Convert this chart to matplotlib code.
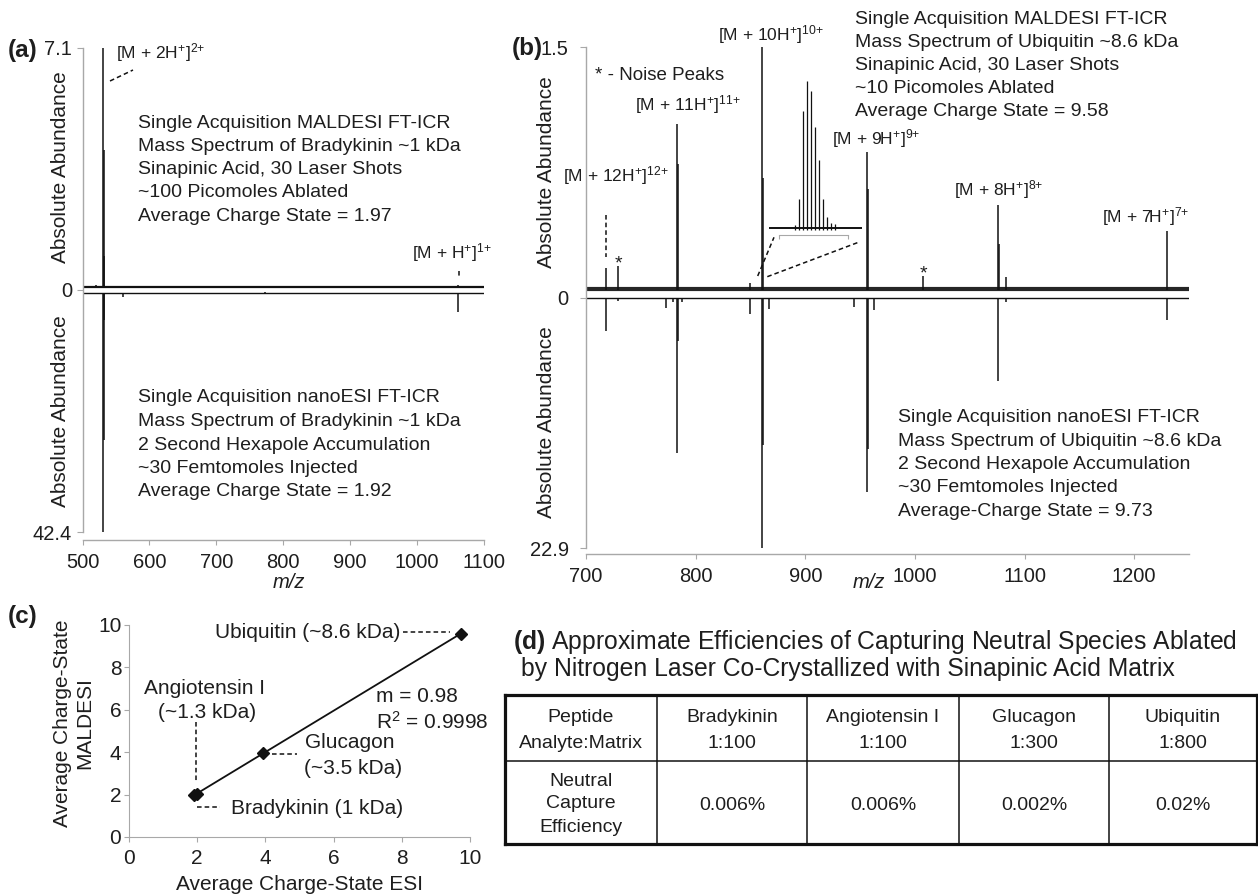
import numpy as np
import matplotlib
matplotlib.use("Agg")
from matplotlib import pyplot as plt

plt.rcParams['font.family'] = ['Liberation Sans', 'DejaVu Sans']
plt.rcParams['mathtext.fontset'] = 'custom'
plt.rcParams['mathtext.rm'] = 'Liberation Sans'
plt.rcParams['mathtext.it'] = 'Liberation Sans:italic'
plt.rcParams['mathtext.bf'] = 'Liberation Sans:bold'

# ---- data -------------------------------------------------------------
# (a) bradykinin, MALDESI (top) and nanoESI (bottom)
a_top_mz = [520.5, 531.3, 531.8, 532.3, 603.0, 610.5, 1061.5]
a_top_ab = [0.15, 7.1, 4.1, 1.0, 0.08, 0.10, 0.14]
a_bot_mz = [531.3, 531.8, 532.3, 545.0, 549.0, 560.0, 772.0, 1061.5]
a_bot_ab = [42.4, 26.2, 5.2, 0.6, 0.6, 1.3, 0.3, 3.9]
a_max = [7.1, 42.4]

# (b) ubiquitin, MALDESI (top) and nanoESI (bottom)
b_top_mz = [718.0, 729.5, 782.7, 783.5, 849.6, 860.9, 861.7, 956.4, 957.2,
            1007.0, 1075.6, 1076.4, 1083.0, 1229.5]
b_top_ab = [0.18, 0.19, 1.04, 0.80, 0.09, 1.5, 0.72, 0.87, 0.65,
            0.13, 0.555, 0.32, 0.125, 0.40]
b_bot_mz = [718.0, 729.5, 773.0, 779.0, 782.7, 783.5, 788.0, 850.0, 860.9,
            861.7, 867.0, 944.0, 956.4, 957.2, 963.0, 1075.6, 1083.0, 1229.5]
b_bot_ab = [3.0, 0.3, 0.9, 0.4, 14.2, 4.0, 0.4, 1.48, 22.9,
            13.5, 1.06, 0.82, 17.8, 13.8, 1.12, 7.6, 0.4, 2.0]
b_max = [1.5, 22.9]

# inset: isotope distribution of [M + 10H]10+ (relative)
ins_mz = [857.33, 857.43, 857.53, 857.63, 857.73, 857.83, 857.93, 858.03,
          858.13, 858.23, 858.33]
ins_ab = [0.03, 0.21, 0.80, 1.0, 0.93, 0.69, 0.47, 0.21, 0.09, 0.05, 0.04]

# (c) average charge states
c_names = ['Bradykinin', 'Angiotensin I', 'Glucagon', 'Ubiquitin']
c_esi = [1.92, 2.00, 3.92, 9.73]
c_maldesi = [1.97, 2.03, 3.98, 9.58]

# (d) table
peptides = ['Bradykinin', 'Angiotensin I', 'Glucagon', 'Ubiquitin']
ratios = ['1:100', '1:100', '1:300', '1:800']
efficiency = ['0.006%', '0.006%', '0.002%', '0.02%']

# ---- figure -----------------------------------------------------------
W, H = 1258, 894
fig = plt.figure(figsize=(W / 100, H / 100), dpi=100)
GREY = '#a8a8a8'
TXT = '#1e1e1e'
INK = '#111111'


def box(l, t, r, b):
    return [l / W, 1 - b / H, (r - l) / W, (b - t) / H]


def spectrum_axes(rect, xlim, ylim, ylabels, ypad):
    ax = fig.add_axes(rect, facecolor='none')
    ax.set_xlim(xlim)
    ax.set_ylim(ylim)
    for s in ['top', 'right']:
        ax.spines[s].set_visible(False)
    for s in ['left', 'bottom']:
        ax.spines[s].set_color(GREY)
        ax.spines[s].set_linewidth(1)
    ax.spines['left'].set_bounds(-1, 1)
    ax.set_yticks([1, 0, -1])
    ax.set_yticklabels(ylabels)
    ax.tick_params(colors=GREY, labelcolor=TXT, labelsize=14.5, width=0.8)
    ax.tick_params(axis='y', length=4.5, pad=ypad)
    ax.tick_params(axis='x', length=3.5, pad=6)
    return ax


# (a)
ax_a = spectrum_axes(box(82.5, 46, 484, 540), (500, 1100), (-1.033, 1.008),
                     ['7.1', '0', '42.4'], 3)
ax_a.set_xticks(np.arange(500, 1101, 100))
ax_a.axhline(0.012, color=INK, lw=1.6)
ax_a.axhline(-0.012, color=INK, lw=1.0)
ax_a.vlines(a_top_mz, 0.012, np.array(a_top_ab) / a_max[0], color=INK, lw=1.1)
ax_a.vlines(a_bot_mz, -np.array(a_bot_ab) / a_max[1], -0.012, color=INK, lw=1.1)

# (b)
ax_b = spectrum_axes(box(586, 46, 1189, 554), (700, 1250), (-1.023, 1.005),
                     ['1.5', '0', '22.9'], 8)
ax_b.set_xticks(np.arange(700, 1201, 100))
ax_b.axhline(0.033, color='#262626', lw=3.0)
ax_b.axhline(0.0, color=INK, lw=1.0)
ax_b.vlines(b_top_mz, 0.03, np.array(b_top_ab) / b_max[0], color=INK, lw=1.1)
ax_b.vlines(b_bot_mz, -np.array(b_bot_ab) / b_max[1], 0, color=INK, lw=1.1)

# inset
ax_in = fig.add_axes(box(766, 78, 866, 238), facecolor='none')
ax_in.set_xlim(856.6, 859.1)
ax_in.set_ylim(-0.054, 1.02)
for s in ['top', 'right', 'left']:
    ax_in.spines[s].set_visible(False)
ax_in.spines['bottom'].set_position(('data', -0.034))
ax_in.spines['bottom'].set_bounds(856.925, 858.65)
ax_in.spines['bottom'].set_color(GREY)
ax_in.set_xticks([856.925, 858.65])
ax_in.set_xticklabels([])
ax_in.set_yticks([])
ax_in.tick_params(axis='x', colors=GREY, length=3, width=0.8)
ax_in.hlines(0.01, 856.675, 859.0, color=INK, lw=1.4)
ax_in.vlines(ins_mz, 0, ins_ab, color=INK, lw=0.9)

# (c)
ax_c = fig.add_axes(box(129, 625, 470, 837), facecolor='none')
ax_c.set_xlim(0, 10)
ax_c.set_ylim(0, 10)
for s in ['top', 'right']:
    ax_c.spines[s].set_visible(False)
for s in ['left', 'bottom']:
    ax_c.spines[s].set_color(GREY)
ax_c.set_xticks(np.arange(0, 11, 2))
ax_c.set_yticks(np.arange(0, 11, 2))
ax_c.tick_params(colors=GREY, labelcolor=TXT, labelsize=15, width=0.8, length=3.5)
ax_c.tick_params(axis='y', pad=2)
ax_c.tick_params(axis='x', pad=5)
slope, icpt = np.polyfit(c_esi, c_maldesi, 1)
xs = np.array([min(c_esi), max(c_esi)])
ax_c.plot(xs, slope * xs + icpt, color=INK, lw=1.3, clip_on=False)
ax_c.plot(c_esi, c_maldesi, 'D', color=INK, ms=6, clip_on=False)

# ---- overlay in pixel coordinates ------------------------------------
ov = fig.add_axes([0, 0, 1, 1], facecolor='none')
ov.set_xlim(0, W)
ov.set_ylim(H, 0)
ov.axis('off')


def txt(x, y, s, size=14, ha='left', **kw):
    ov.text(x, y, s, fontsize=size, ha=ha, va='center', color=TXT, **kw)


def block(x, y0, dy, lines, size=14):
    for i, line in enumerate(lines):
        txt(x, y0 + i * dy, line, size)


def dash(xs, ys):
    ov.plot(xs, ys, color=INK, lw=1.1, ls=(0, (3, 2)))


def ion(n, z):
    return r'[M + %sH$^{+}$]$^{%s{+}}$' % (n, z)


ION = 12.5

# panel letters
txt(8, 50, '(a)', 17.5, weight='bold')
txt(512, 48, '(b)', 17.5, weight='bold')
txt(8, 617, '(c)', 17.5, weight='bold')

# (a) texts
txt(60, 167, 'Absolute Abundance', 15, ha='center', rotation=90)
txt(60, 411, 'Absolute Abundance', 15, ha='center', rotation=90)
txt(289, 582, 'm/z', 14.5, ha='center', style='italic')
txt(116, 53, ion('2', '2'), ION)
txt(412, 253, ion('', '1'), ION)
dash([110, 133], [81, 70])
dash([458.5, 458.5], [271, 278])
block(138, 123, 23.3, ['Single Acquisition MALDESI FT-ICR',
                       'Mass Spectrum of Bradykinin ~1 kDa',
                       'Sinapinic Acid, 30 Laser Shots',
                       '~100 Picomoles Ablated',
                       'Average Charge State = 1.97'])
block(138, 398, 23.5, ['Single Acquisition nanoESI FT-ICR',
                       'Mass Spectrum of Bradykinin ~1 kDa',
                       '2 Second Hexapole Accumulation',
                       '~30 Femtomoles Injected',
                       'Average Charge State = 1.92'])

# (b) texts
txt(547, 172, 'Absolute Abundance', 15, ha='center', rotation=90)
txt(547, 422, 'Absolute Abundance', 15, ha='center', rotation=90)
txt(869, 583, 'm/z', 14.5, ha='center', style='italic')
txt(563, 176, ion('12', '12'), ION)
txt(595, 75, '* - Noise Peaks', 13.5)
txt(635, 105, ion('11', '11'), ION)
txt(718, 35, ion('10', '10'), ION)
txt(832, 139, ion('9', '9'), ION)
txt(954, 190, ion('8', '8'), ION)
txt(1102, 217, ion('7', '7'), ION)
txt(618, 264, '*', ha='center')
txt(923, 274, '*', ha='center')
dash([605.7, 605.7], [215, 257])
dash([757.7, 774], [276, 237.3])
dash([767.3, 860], [276.7, 241.7])
block(855, 19, 23.2, ['Single Acquisition MALDESI FT-ICR',
                      'Mass Spectrum of Ubiquitin ~8.6 kDa',
                      'Sinapinic Acid, 30 Laser Shots',
                      '~10 Picomoles Ablated',
                      'Average Charge State = 9.58'])
block(898, 418, 23.3, ['Single Acquisition nanoESI FT-ICR',
                       'Mass Spectrum of Ubiquitin ~8.6 kDa',
                       '2 Second Hexapole Accumulation',
                       '~30 Femtomoles Injected',
                       'Average-Charge State = 9.73'])

# (c) texts
txt(62, 723, 'Average Charge-State', 15, ha='center', rotation=90)
txt(85, 723, 'MALDESI', 15, ha='center', rotation=90)
txt(300, 884, 'Average Charge-State ESI', 15, ha='center')
txt(400, 632, 'Ubiquitin (~8.6 kDa)', 15, ha='right')
dash([403, 450], [632, 632])
txt(204, 688, 'Angiotensin I', 15, ha='center')
txt(207, 713, '(~1.3 kDa)', 15, ha='center')
dash([196, 196], [722, 782])
txt(376, 697, 'm = 0.98', 15)
txt(376, 722, r'R$^{2}$ = 0.9998', 15)
txt(305, 743, 'Glucagon', 15)
txt(304, 768, '(~3.5 kDa)', 15)
dash([272, 297], [754, 754])
txt(231, 809, 'Bradykinin (1 kDa)', 15)
dash([197, 220], [807, 807])

# (d) title and table
txt(513, 642, r'$\mathbf{(d)}$ Approximate Efficiencies of Capturing Neutral Species Ablated', 17.8)
txt(521, 669, 'by Nitrogen Laser Co-Crystallized with Sinapinic Acid Matrix', 17.8)

col_edges = [505, 657, 807, 959, 1109, 1257]
row_edges = [695, 761, 844]
ov.plot([col_edges[0], W + 5], [row_edges[0]] * 2, color=INK, lw=2.3)
ov.plot([col_edges[0], W + 5], [row_edges[-1]] * 2, color=INK, lw=2.3)
ov.plot([col_edges[0]] * 2, [row_edges[0], row_edges[-1]], color=INK, lw=2.3)
ov.plot([col_edges[-1]] * 2, [row_edges[0], row_edges[-1]], color=INK, lw=2.3)
ov.plot([col_edges[0], col_edges[-1]], [row_edges[1]] * 2, color=INK, lw=1.1)
for xe in col_edges[1:-1]:
    ov.plot([xe, xe], [row_edges[0], row_edges[-1]], color=INK, lw=1.1)

centers = [(col_edges[i] + col_edges[i + 1]) / 2 for i in range(len(col_edges) - 1)]
txt(centers[0], 717, 'Peptide', ha='center')
txt(centers[0], 743, 'Analyte:Matrix', ha='center')
txt(centers[0], 781, 'Neutral', ha='center')
txt(centers[0], 804, 'Capture', ha='center')
txt(centers[0], 827, 'Efficiency', ha='center')
for cx, p, r, e in zip(centers[1:], peptides, ratios, efficiency):
    txt(cx, 717, p, ha='center')
    txt(cx, 743, r, ha='center')
    txt(cx, 806, e, ha='center')

fig.savefig('out.png', dpi=100)
